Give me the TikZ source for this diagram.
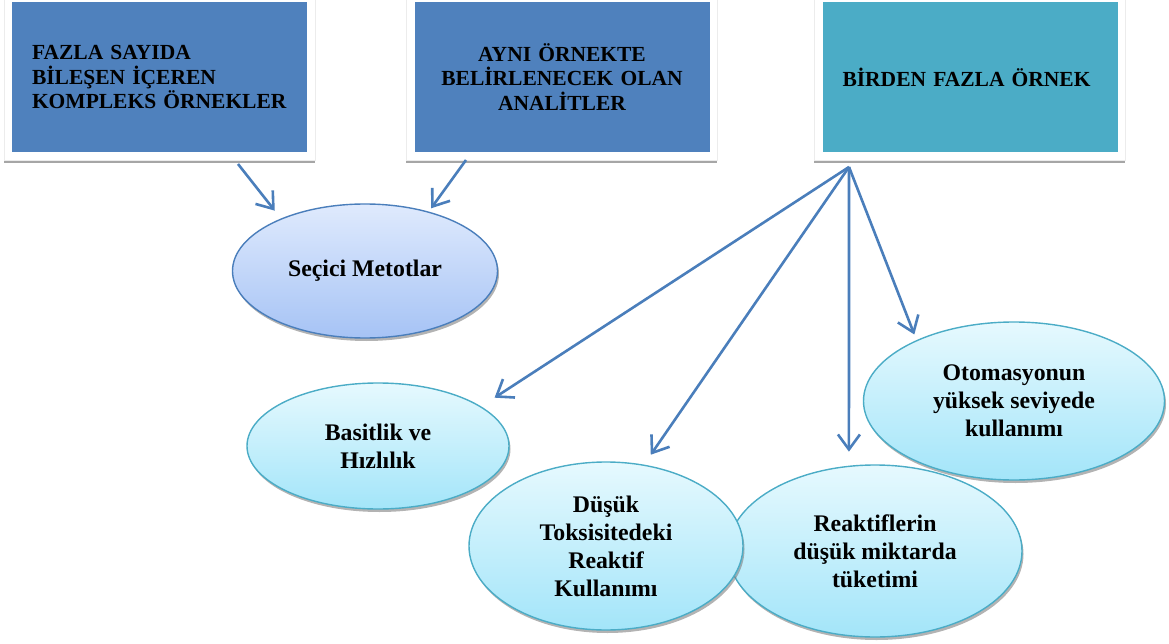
\documentclass[tikz,border=0pt]{standalone}
\usepackage{fontspec}
\setmainfont{Liberation Serif}
\usetikzlibrary{arrows.meta, shapes.geometric, shadows}

\definecolor{boxblue}{HTML}{4F81BD}
\definecolor{boxteal}{HTML}{4BACC6}
\definecolor{linkblue}{HTML}{4A7EBB}
\definecolor{methtop}{HTML}{DFEAFD}
\definecolor{methbot}{HTML}{A6C3F5}
\definecolor{bentop}{HTML}{E6F9FE}
\definecolor{benbot}{HTML}{A3E5F9}

\begin{document}
\begin{tikzpicture}[x=1pt, y=-1pt,
  frame/.style={draw=gray!15, fill=white, minimum width=311pt, minimum height=168pt,
    drop shadow={shadow xshift=0pt, shadow yshift=-3pt, fill=gray, opacity=.7}},
  topbox/.style={fill=#1, minimum width=295pt, minimum height=150pt, text width=255pt,
    inner xsep=20pt, font=\fontsize{21.5}{24.5}\selectfont\bfseries},
  method/.style={ellipse, draw=linkblue, line width=1.4pt, top color=methtop, bottom color=methbot,
    inner sep=0pt, align=center, font=\fontsize{23.8}{28}\selectfont\bfseries,
    drop shadow={shadow xshift=1.5pt, shadow yshift=-3pt, fill=gray, opacity=.6}},
  benefit/.style={method, draw=boxteal, top color=bentop, bottom color=benbot},
  link/.style={draw=linkblue, line width=2.6pt, -{Straight Barb[length=15pt, width=22pt]}}]
\useasboundingbox (0,0) rectangle (1169,644);

% top boxes
\node[frame] at (159.5,76) {};
\node[topbox=boxblue, align=left] (komp) at (159.5,77) {FAZLA SAYIDA\\BİLEŞEN İÇEREN\\KOMPLEKS ÖRNEKLER};
\node[frame] at (561.5,76) {};
\node[topbox=boxblue, align=center] (anal) at (562,77) {AYNI ÖRNEKTE\\BELİRLENECEK OLAN\\ANALİTLER};
\node[frame] at (969.5,76) {};
\node[topbox=boxteal, align=left] (birden) at (970,77) {BİRDEN FAZLA ÖRNEK};

% ellipses
\node[method, minimum width=265pt, minimum height=134pt] (secici) at (365,271) {Seçici Metotlar};
\node[benefit, minimum width=262pt, minimum height=126pt] (basit) at (378,446) {Basitlik ve\\Hızlılık};
\node[benefit, minimum width=294pt, minimum height=172pt] (reakt) at (875,551) {Reaktiflerin\\düşük miktarda\\tüketimi};
\node[benefit, minimum width=274pt, minimum height=168pt] (toks) at (606,546) {Düşük\\Toksisitedeki\\Reaktif\\Kullanımı};
\node[benefit, minimum width=301pt, minimum height=158pt] (otom) at (1014,401) {Otomasyonun\\yüksek seviyede\\kullanımı};

% arrows
\coordinate (k1) at (238,164);
\coordinate (a1) at (466,160);
\coordinate (b1) at (849,167);
\draw[link, shorten >=10pt] (k1) -- (secici.148);
\draw[link, shorten >=4pt] (a1) -- (secici.43);
\draw[link, shorten >=16pt] (b1) -- (basit.21);
\draw[link, shorten >=12pt] (b1) -- (toks.65);
\draw[link, shorten >=14pt] (b1) -- (reakt.107.6);
\draw[link, shorten >=6pt] (b1) -- (otom.148);
\end{tikzpicture}
\end{document}
